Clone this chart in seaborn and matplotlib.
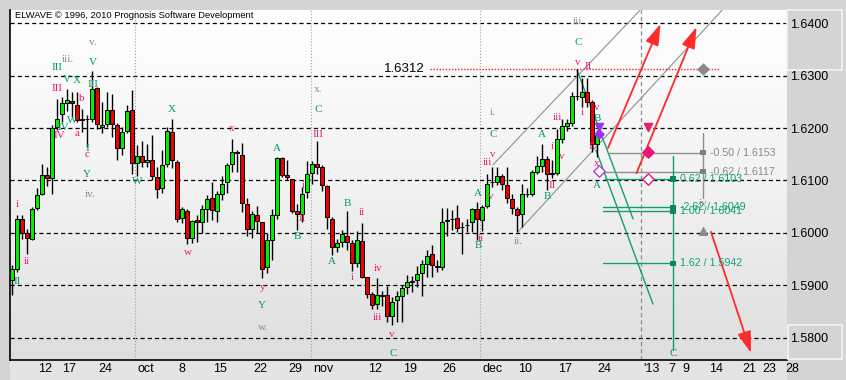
import numpy as np
import pandas as pd
import matplotlib
matplotlib.use("Agg")
import matplotlib.pyplot as plt
import seaborn as sns
import matplotlib.transforms as mtrans
from matplotlib.colors import LinearSegmentedColormap
from matplotlib.patches import Rectangle

# ------------------------------------------------------------------ data
opens = [1.5910, 1.5932, 1.6027, 1.6000, 1.5989, 1.6048, 1.6074, 1.6110, 1.6104, 1.6203,
         1.6226, 1.6248, 1.6252, 1.6244, 1.6217, 1.6218, 1.6218, 1.6276, 1.6203, 1.6208,
         1.6234, 1.6205, 1.6162, 1.6194, 1.6234, 1.6134, 1.6147, 1.6136, 1.6140, 1.6106,
         1.6085, 1.6131, 1.6192, 1.6136, 1.6029, 1.6042, 1.5991, 1.6024, 1.6021, 1.6046,
         1.6066, 1.6042, 1.6075, 1.6097, 1.6131, 1.6154, 1.6148, 1.6056, 1.6008, 1.6035,
         1.6020, 1.5934, 1.5987, 1.6035, 1.6142, 1.6110, 1.6102, 1.6041, 1.6037, 1.6078,
         1.6115, 1.6131, 1.6125, 1.6089, 1.6027, 1.5973, 1.5983, 1.5995, 1.5981, 1.5943,
         1.5984, 1.5915, 1.5884, 1.5864, 1.5881, 1.5881, 1.5841, 1.5871, 1.5879, 1.5896,
         1.5908, 1.5910, 1.5924, 1.5940, 1.5959, 1.5936, 1.5934, 1.6023, 1.6027, 1.6029,
         1.6011, 1.6015, 1.6021, 1.6046, 1.6024, 1.6051, 1.6097, 1.6097, 1.6108, 1.6091,
         1.6064, 1.6045, 1.6037, 1.6074, 1.6075, 1.6117, 1.6128, 1.6141, 1.6113, 1.6115,
         1.6180, 1.6204, 1.6210, 1.6261, 1.6260, 1.6268, 1.6249, 1.6169]
highs = [1.5938, 1.6034, 1.6034, 1.6008, 1.6050, 1.6085, 1.6131, 1.6126, 1.6206, 1.6255,
         1.6260, 1.6275, 1.6268, 1.6269, 1.6236, 1.6225, 1.6309, 1.6279, 1.6250, 1.6269,
         1.6265, 1.6209, 1.6203, 1.6244, 1.6273, 1.6168, 1.6176, 1.6169, 1.6187, 1.6126,
         1.6158, 1.6203, 1.6217, 1.6139, 1.6050, 1.6046, 1.6024, 1.6034, 1.6053, 1.6072,
         1.6097, 1.6080, 1.6108, 1.6134, 1.6179, 1.6159, 1.6171, 1.6066, 1.6041, 1.6051,
         1.6020, 1.5999, 1.6046, 1.6145, 1.6145, 1.6140, 1.6102, 1.6056, 1.6088, 1.6137,
         1.6137, 1.6175, 1.6129, 1.6091, 1.6031, 1.5989, 1.6005, 1.6041, 1.5986, 1.6003,
         1.6019, 1.5916, 1.5887, 1.5913, 1.5889, 1.5898, 1.5878, 1.5889, 1.5900, 1.5919,
         1.5917, 1.5936, 1.5948, 1.5967, 1.5976, 1.5949, 1.6048, 1.6048, 1.6043, 1.6053,
         1.6021, 1.6027, 1.6048, 1.6059, 1.6054, 1.6113, 1.6126, 1.6126, 1.6113, 1.6126,
         1.6075, 1.6050, 1.6094, 1.6085, 1.6120, 1.6147, 1.6169, 1.6147, 1.6140, 1.6199,
         1.6217, 1.6217, 1.6268, 1.6312, 1.6295, 1.6295, 1.6254, 1.6196]
lows = [1.5881, 1.5925, 1.5989, 1.5960, 1.5986, 1.6043, 1.6072, 1.6090, 1.6074, 1.6196,
        1.6212, 1.6233, 1.6222, 1.6212, 1.6193, 1.6164, 1.6212, 1.6199, 1.6190, 1.6203,
        1.6183, 1.6139, 1.6148, 1.6190, 1.6112, 1.6108, 1.6126, 1.6126, 1.6101, 1.6067,
        1.6076, 1.6126, 1.6124, 1.6021, 1.6019, 1.5978, 1.5980, 1.5983, 1.5999, 1.6021,
        1.6025, 1.6021, 1.6062, 1.6076, 1.6117, 1.6117, 1.6040, 1.5995, 1.5991, 1.5999,
        1.5913, 1.5924, 1.5949, 1.6027, 1.6107, 1.6101, 1.6038, 1.6005, 1.6021, 1.6067,
        1.6094, 1.6113, 1.6080, 1.6008, 1.5957, 1.5964, 1.5973, 1.5967, 1.5927, 1.5935,
        1.5914, 1.5876, 1.5855, 1.5855, 1.5860, 1.5830, 1.5824, 1.5830, 1.5830, 1.5884,
        1.5887, 1.5897, 1.5879, 1.5916, 1.5916, 1.5925, 1.5929, 1.5995, 1.6005, 1.6002,
        1.5960, 1.6002, 1.6002, 1.5986, 1.6004, 1.6048, 1.6088, 1.6091, 1.6082, 1.6057,
        1.6037, 1.6001, 1.6011, 1.6069, 1.6071, 1.6112, 1.6117, 1.6082, 1.6104, 1.6111,
        1.6171, 1.6194, 1.6204, 1.6254, 1.6241, 1.6241, 1.6155, 1.6145]
closes = [1.5932, 1.6027, 1.5999, 1.5991, 1.6046, 1.6072, 1.6110, 1.6104, 1.6201, 1.6218,
          1.6247, 1.6254, 1.6247, 1.6215, 1.6216, 1.6217, 1.6274, 1.6207, 1.6206, 1.6234,
          1.6208, 1.6162, 1.6192, 1.6232, 1.6134, 1.6147, 1.6136, 1.6140, 1.6109, 1.6083,
          1.6129, 1.6194, 1.6140, 1.6027, 1.6045, 1.5991, 1.6022, 1.6021, 1.6046, 1.6064,
          1.6043, 1.6074, 1.6094, 1.6129, 1.6154, 1.6153, 1.6057, 1.6008, 1.6037, 1.6023,
          1.5932, 1.5986, 1.6035, 1.6142, 1.6111, 1.6106, 1.6042, 1.6037, 1.6074, 1.6113,
          1.6131, 1.6126, 1.6092, 1.6031, 1.5973, 1.5980, 1.5997, 1.5983, 1.5943, 1.5986,
          1.5916, 1.5884, 1.5863, 1.5881, 1.5880, 1.5841, 1.5869, 1.5879, 1.5894, 1.5906,
          1.5906, 1.5922, 1.5940, 1.5956, 1.5938, 1.5935, 1.6020, 1.6024, 1.6027, 1.6010,
          1.6012, 1.6016, 1.6046, 1.6026, 1.6050, 1.6093, 1.6098, 1.6108, 1.6094, 1.6066,
          1.6048, 1.6035, 1.6074, 1.6075, 1.6116, 1.6127, 1.6141, 1.6113, 1.6114, 1.6179,
          1.6204, 1.6209, 1.6261, 1.6261, 1.6268, 1.6250, 1.6169, 1.6187]

price_levels = [1.5800, 1.5900, 1.6000, 1.6100, 1.6200, 1.6300, 1.6400]
tick_pos = [4.8, 9.6, 16.8, 24.6, 32.8, 39.8, 47.8, 54.8, 59.8, 70.8, 77.7, 85.7,
            93.6, 100.7, 108.7, 116.6, 125.8, 130.8, 133.7, 139.0, 145.6, 149.6, 154.2]
tick_labels = ["12", "17", "24", "oct", "8", "15", "22", "29", "nov", "12", "19", "26",
               "dec", "10", "17", "24", "'13", "7", "9", "14", "21", "23", "28"]
month_pos = [24.6, 59.8, 93.6]
year_pos = 125.8

high_mark = 1.6312

wave_text = ["v.", "iii.", "V", "III", "V", "X", "III", "III", "b", "W", "IV", "IV", "a",
             "I", "c", "Y", "iv.", "i", "ii", "II", "X", "W", "w", "x", "A", "y", "Y", "w.",
             "B", "i", "II", "x.", "C", "III", "B", "ii", "A", "i", "iv", "iii", "v", "C",
             "i.", "C", "v", "iii", "A", "v", "ii", "B", "ii.", "A", "i", "iii", "v", "II",
             "B", "iii", "C", "v", "II", "i", "v", "B", "II", "x", "A", "iv", "C"]
wave_x = [16.2, 11.2, 16.2, 9.0, 11.0, 13.0, 9.0, 16.2, 14.0, 12.0, 10.2, 9.4, 13.0,
          15.0, 15.0, 15.0, 15.6, 1.0, 3.0, 1.0, 32.0, 25.0, 35.2, 44.0, 53.0, 50.2, 50.0, 50.2,
          57.0, 58.2, 58.0, 61.2, 61.2, 61.2, 67.0, 70.0, 64.0, 68.0, 73.2, 73.0, 76.0, 76.2,
          96.2, 96.2, 96.2, 95.0, 93.2, 95.8, 93.8, 93.2, 101.2, 106.0, 108.0, 109.0, 110.0, 108.0,
          107.0, 113.0, 113.2, 113.2, 115.2, 114.0, 117.0, 117.0, 116.0, 117.0, 117.0, 138.2, 132.2]
wave_y = [1.6364, 1.6330, 1.6326, 1.6315, 1.6292, 1.6290, 1.6275, 1.6284, 1.6257, 1.6214,
          1.6202, 1.6185, 1.6189, 1.6162, 1.6149, 1.6112, 1.6074, 1.6055, 1.5946, 1.5908,
          1.6235, 1.6099, 1.5962, 1.6200, 1.6162, 1.5895, 1.5861, 1.5819, 1.5994, 1.6091,
          1.6028, 1.6273, 1.6235, 1.6187, 1.6057, 1.6038, 1.5945, 1.5914, 1.5933, 1.5839,
          1.5807, 1.5769, 1.6229, 1.6187, 1.6149, 1.6134, 1.6076, 1.6070, 1.5990, 1.5975,
          1.5983, 1.6187, 1.6164, 1.6221, 1.6145, 1.6091, 1.6070, 1.6404, 1.6364, 1.6326,
          1.6317, 1.6229, 1.6240, 1.6219, 1.6164, 1.6133, 1.6091, 1.6057, 1.5769]
wave_col = ["g", "g", "t", "t", "t", "t", "p", "t", "p", "t", "t", "p", "p",
            "t", "p", "t", "g", "p", "p", "t", "t", "t", "p", "p", "t", "p", "t", "g",
            "t", "p", "p", "g", "t", "p", "t", "p", "t", "p", "p", "p", "p", "t",
            "g", "t", "p", "p", "t", "p", "p", "t", "g", "t", "p", "p", "p", "p",
            "t", "g", "t", "p", "p", "p", "p", "t", "p", "p", "t", "g", "t"]

# channel lines (start/end in bar index, price)
channel_x = [(96.2, 125.6), (101.2, 142.0)]
channel_y = [(1.6130, 1.6425), (1.6002, 1.6425)]
# projection (green) diagonals
proj_x = [(113.0, 124.2), (116.8, 128.2)]
proj_y = [(1.6311, 1.6027), (1.6158, 1.5864)]
# forecast arrows
arrow_x = [(119.2, 129.7), (124.9, 136.9), (139.8, 147.8)]
arrow_y = [(1.6162, 1.6399), (1.6114, 1.6393), (1.6002, 1.5771)]

# fibonacci targets
fib_gray_ratio = ["-0.50", "-0.62"]
fib_gray_price = [1.6153, 1.6117]
fib_gray_start = [119.2, 118.6]
fib_green_ratio = ["0.62", "-2.62", "1.00", "1.62"]
fib_green_price = [1.6103, 1.6049, 1.6041, 1.5942]
fib_green_start = [118.6, 118.2, 118.2, 118.2]
fib_gray_x = 138.2
fib_green_x = 132.2
fib_gray_span = (1.6067, 1.6191)
fib_green_span = (1.5777, 1.6147)

# ------------------------------------------------------------------ style
sns.set_style("white")
plt.rcParams['font.family'] = ['Liberation Sans', 'DejaVu Sans']
plt.rcParams['lines.scale_dashes'] = False

PINK = "#f0147a"
TEAL = "#00996a"
GRAY = "#8a8a8a"
colmap = {"p": PINK, "t": TEAL, "g": GRAY}

W, H = 846, 380
fig = plt.figure(figsize=(W / 100, H / 100), dpi=100, facecolor="#d4d4d4")
fig.patches.append(Rectangle((10 / W, 0), 777 / W, 20 / H, transform=fig.transFigure,
                             facecolor="#e4e4e4", edgecolor="none", zorder=-5))
ax = fig.add_axes([10 / W, 20 / H, 777 / W, 350 / H])
xlim = (-0.4, 155.0)
ylim = (1.575744, 1.642538)

grad = np.linspace(0, 1, 256).reshape(-1, 1)
cmap = LinearSegmentedColormap.from_list("bg", ["#ffffff", "#f2f2f2", "#dedede"])
ax.imshow(grad, extent=[xlim[0], xlim[1], ylim[0], ylim[1]], aspect="auto",
          cmap=cmap, origin="upper", zorder=0)
ax.set_xlim(*xlim)
ax.set_ylim(*ylim)

for s in ["top", "right"]:
    ax.spines[s].set_visible(False)
for s in ["left", "bottom"]:
    ax.spines[s].set_color("black")
    ax.spines[s].set_linewidth(1.2)

# grid levels
for lv in price_levels:
    ax.axhline(lv, color="black", lw=0.9, ls=(0, (3, 2.2)), zorder=1)
for mp in month_pos:
    ax.axvline(mp, color="#a0a0a0", lw=0.8, ls=(0, (0.8, 1.4)), zorder=1)
ax.axvline(year_pos, color="#8c8c8c", lw=0.9, ls=(0, (3, 2.2)), zorder=1)

# candles
df = pd.DataFrame(dict(i=np.arange(len(opens)), o=opens, h=highs, l=lows, c=closes))
ax.vlines(df.i, df.l, df.h, color="black", lw=1.0, zorder=3)
bottoms = np.minimum(df.o, df.c)
heights = np.maximum(np.abs(df.c - df.o), 0.00002)
colors = np.where(df.c > df.o, "#00ee00", "#ee0000")
ax.bar(df.i, heights, bottom=bottoms, width=0.76, color=colors,
       edgecolor="black", linewidth=0.7, zorder=4)

# channel lines
for (x0, x1), (y0, y1) in zip(channel_x, channel_y):
    ax.plot([x0, x1], [y0, y1], color="#909090", lw=0.8, zorder=2)
for (x0, x1), (y0, y1) in zip(proj_x, proj_y):
    ax.plot([x0, x1], [y0, y1], color="#10a070", lw=1.0, zorder=2)

# high marker line
ax.plot([83.6, 141.6], [high_mark, high_mark], color="#ff2020", lw=1.0,
        ls=(0, (1, 1.2)), zorder=2)
ax.text(82.6, high_mark + 0.0001, f"{high_mark:.4f}", ha="right", va="center",
        fontsize=9.5, color="black", zorder=6)

# fib targets
for r, p, x0 in zip(fib_gray_ratio, fib_gray_price, fib_gray_start):
    ax.plot([x0, fib_gray_x], [p, p], color="#909090", lw=1.0, zorder=2)
    ax.text(fib_gray_x + 1.4, p, f"{r} / {p:.4f}", color="#8a8a8a", fontsize=7.7,
            ha="left", va="center", zorder=6)
ax.plot([fib_gray_x, fib_gray_x], fib_gray_span, color="#909090", lw=1.0, zorder=2)
for r, p, x0 in zip(fib_green_ratio, fib_green_price, fib_green_start):
    ax.plot([x0, fib_green_x], [p, p], color="#10a070", lw=1.0, zorder=2)
    ax.text(fib_green_x + 1.4, p, f"{r} / {p:.4f}", color="#10a070", fontsize=7.7,
            ha="left", va="center", zorder=6)
ax.plot([fib_green_x, fib_green_x], fib_green_span, color="#10a070", lw=1.0, zorder=2)

marks = pd.DataFrame(dict(
    x=[fib_gray_x] * len(fib_gray_price) + [fib_green_x] * len(fib_green_price),
    y=fib_gray_price + fib_green_price,
    kind=["gray"] * len(fib_gray_price) + ["green"] * len(fib_green_price)))
sns.scatterplot(data=marks, x="x", y="y", hue="kind", palette={"gray": "#808080", "green": "#0a8a5a"},
                marker="s", s=14, linewidth=0, legend=False, ax=ax, zorder=5)
ax.set_xlabel("")
ax.set_ylabel("")

# arrows
for (x0, x1), (y0, y1) in zip(arrow_x, arrow_y):
    ax.annotate("", xy=(x1, y1), xytext=(x0, y0),
                arrowprops=dict(arrowstyle="-|>,head_length=1.0,head_width=0.32",
                                color="#ff2a2a", lw=1.3, mutation_scale=13,
                                shrinkA=0, shrinkB=0), zorder=5)

# event markers
ax.scatter([138.2], [1.6313], marker="D", s=30, color="#8a8a8a", zorder=6)
ax.scatter([138.2], [1.6004], marker="^", s=30, color="#8a8a8a", zorder=6)
ax.scatter([127.2], [1.6202], marker="v", s=34, color="#e8206a", zorder=6)
ax.scatter([127.2], [1.6154], marker="D", s=34, color="#f0147a", zorder=6)
ax.scatter([127.2], [1.6103], marker="D", s=34, facecolor="white", edgecolor="#f0147a", lw=1, zorder=6)
ax.scatter([117.3], [1.6202], marker="v", s=34, color="#9a30f0", zorder=7)
ax.scatter([117.3], [1.6189], marker="D", s=22, color="#9a30f0", zorder=7)
ax.scatter([117.3], [1.6118], marker="D", s=34, facecolor="white", edgecolor="#b040e0", lw=1, zorder=7)

# wave labels
for t, x, y, c in zip(wave_text, wave_x, wave_y, wave_col):
    ax.text(x, y, t, color=colmap[c], fontsize=8, ha="center", va="center",
            family=["Liberation Serif", "DejaVu Serif"], zorder=8)

# axes ticks
ax.set_xticks(tick_pos)
ax.set_xticklabels([])
ax.set_xticks(np.arange(0, 156), minor=True)
ax.tick_params(axis="x", which="major", direction="out", length=10.8, width=1.0, color="black")
ax.tick_params(axis="x", which="minor", direction="out", length=2.9, width=0.8, color="black")
trans = mtrans.blended_transform_factory(ax.transData, ax.transAxes)
for pos, lab in zip(tick_pos, tick_labels):
    ax.text(pos + 0.45, -0.026, lab, transform=trans, ha="left", va="center",
            fontsize=9, color="black", clip_on=False, zorder=10)

ax.yaxis.tick_right()
ax.set_yticks(price_levels)
ax.set_yticklabels([f"{v:.4f}" for v in price_levels])
ax.tick_params(axis="y", length=0, pad=2.5, labelsize=9, labelcolor="black")

# title
fig.text(15 / W, 1 - 15.5 / H, "ELWAVE \u00a9 1996, 2010 Prognosis Software Development",
         fontsize=6.75, color="black", ha="left", va="center")

# right panel boxes
for (x0, y0, x1, y1) in [(787, 10, 842, 70), (788, 325, 842, 359)]:
    fig.patches.append(Rectangle((x0 / W, 1 - y1 / H), (x1 - x0) / W, (y1 - y0) / H,
                                 transform=fig.transFigure, facecolor="none",
                                 edgecolor="#f4f4f4", lw=1.2, zorder=3))

fig.savefig("out.png", dpi=100, facecolor=fig.get_facecolor())
